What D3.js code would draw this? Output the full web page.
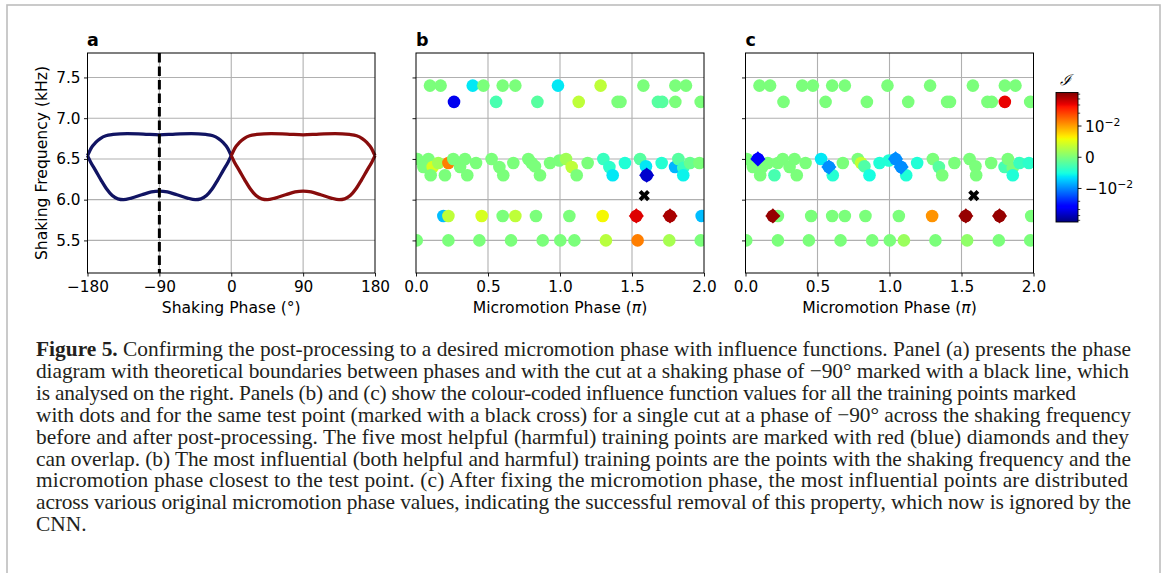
<!DOCTYPE html>
<html><head><meta charset="utf-8">
<script src="https://cdn.jsdelivr.net/npm/d3@7"></script>
<style>
body{margin:0;background:#fff;}
svg{display:block;}
</style></head><body>
<svg id="chart" width="1170" height="573"></svg>
<script>
// ---------- DATA ----------
// Panel a: phase boundaries (Shaking Phase in degrees, Shaking Frequency in kHz)
const blueUpperPhase = [-180,-175,-170,-164,-157,-148,-130,-110,-90,-70,-50,-32,-23,-16,-10,-5,0];
const blueUpperFreq  = [6.54,6.64,6.70,6.75,6.785,6.80,6.81,6.805,6.795,6.805,6.81,6.80,6.785,6.75,6.70,6.64,6.54];
const blueLowerPhase = [-180,-176,-170,-163,-156,-149,-142,-135,-125,-112,-100,-90,-80,-68,-55,-45,-38,-31,-24,-17,-10,-4,0];
const blueLowerFreq  = [6.54,6.46,6.36,6.24,6.13,6.05,6.01,6.00,6.02,6.06,6.095,6.105,6.095,6.06,6.02,6.00,6.01,6.05,6.13,6.24,6.36,6.46,6.54];
const redUpperPhase  = [0,5,10,16,23,32,50,70,90,110,130,148,157,164,170,175,180];
const redUpperFreq   = [6.54,6.64,6.70,6.75,6.785,6.80,6.81,6.805,6.795,6.805,6.81,6.80,6.785,6.75,6.70,6.64,6.54];
const redLowerPhase  = [0,4,10,17,24,31,38,45,55,68,80,90,100,112,125,135,142,149,156,163,170,176,180];
const redLowerFreq   = [6.54,6.46,6.36,6.24,6.13,6.05,6.01,6.00,6.02,6.06,6.095,6.105,6.095,6.06,6.02,6.00,6.01,6.05,6.13,6.24,6.36,6.46,6.54];
const cutPhase = -90;

// Panels b,c: training points (Micromotion Phase in units of pi, Shaking Frequency kHz)
const trainPhase = [
  0.097,0.171,0.394,0.468,0.602,0.690,0.986,1.282,1.579,1.801,1.875,
  0.264,0.556,0.843,1.130,1.400,1.420,1.680,1.710,1.801,1.977,
  0.009,0.086,0.051,0.116,0.155,0.102,0.225,0.201,0.259,0.306,0.340,0.356,0.417,0.525,0.579,0.606,0.676,0.780,0.803,0.826,0.861,0.931,0.995,1.042,1.081,1.116,1.192,1.301,1.343,1.366,1.451,1.556,1.597,1.602,1.706,1.799,1.822,1.856,1.856,1.903,1.968,
  0.190,0.225,0.456,0.602,0.690,0.833,1.065,1.296,1.530,1.764,1.984,
  0.005,0.225,0.440,0.660,0.880,1.002,1.100,1.319,1.539,1.759,1.977
];
const trainFreq = [
  7.4,7.4,7.4,7.4,7.4,7.4,7.4,7.4,7.4,7.4,7.4,
  7.2,7.2,7.2,7.2,7.2,7.2,7.2,7.2,7.2,7.2,
  6.50,6.50,6.40,6.40,6.45,6.30,6.45,6.30,6.50,6.40,6.50,6.30,6.45,6.50,6.40,6.30,6.45,6.50,6.45,6.41,6.30,6.45,6.48,6.50,6.40,6.30,6.45,6.50,6.40,6.30,6.45,6.50,6.41,6.30,6.45,6.40,6.50,6.39,6.30,6.45,6.45,
  5.8,5.8,5.8,5.8,5.8,5.8,5.8,5.8,5.8,5.8,5.8,
  5.5,5.5,5.5,5.5,5.5,5.5,5.5,5.5,5.5,5.5,5.5
];
// influence values before (b) and after (c) post-processing
const inflB = [
  0,0,-0.0045,0,0,0,-0.0045,0.002,0,0,0,
  -0.030,-0.0015,-0.001,0.002,0,0,-0.001,-0.001,0,0,
  0,0,0,0.003,0.001,0,0.013,0,0,0,0,0,0,0,0,0,0,0,0,0,0,0,0,0.001,0.002,0,0,-0.002,-0.0025,-0.0045,-0.003,-0.001,-0.0045,-0.036,-0.0028,-0.007,-0.001,-0.002,-0.004,-0.0005,0,
  -0.0066,0.002,0.003,0,0.002,0,0,0.0045,0.033,0.0435,-0.0066,
  0,0,0,0,0,0,0,0.0018,0.013,0.0012,0
];
const inflC = [
  0,0,0,0,0,0,0,0,0,0,0,
  0,0,0,0,0,0,0,0,0.031,0,
  0,-0.026,0,0,0,0,0,-0.0015,0,0,0,0,0,-0.0045,-0.0097,-0.0028,0,0,0.0022,-0.0012,-0.0035,-0.003,-0.003,-0.0097,-0.0097,-0.003,-0.003,0,-0.001,0,0,0,0,0,0,-0.0015,0,0,-0.003,-0.002,-0.0025,
  0.048,0,0,0,0,0,0,0.011,0.048,0.048,0,
  0,0,0,0,0,0,0.0008,0,0.0005,0,0
];
// most helpful / harmful (diamonds)
const diaPhaseB = [1.530,1.764,1.602];
const diaFreqB  = [5.8,5.8,6.3];
const diaValB   = [0.033,0.0435,-0.036];
const diaPhaseC = [0.190,1.530,1.764,0.086,0.579,1.042,1.081];
const diaFreqC  = [5.8,5.8,5.8,6.5,6.4,6.5,6.4];
const diaValC   = [0.048,0.048,0.048,-0.026,-0.0097,-0.0097,-0.0097];
// test point
const testPhase = 1.585, testFreq = 6.05;

// ticks
const ticksA_x = [-180,-90,0,90,180];
const ticksBC_x = [0.0,0.5,1.0,1.5,2.0];
const ticksY = [5.5,6.0,6.5,7.0,7.5];
const cbMajor = [-0.01,0,0.01];
const cbMinor = [-0.05,-0.04,-0.03,-0.02,0.02,0.03,0.04,0.05];
const cbLimit = 0.054, cbConst = 0.0035;

const captionLines = [
  ["Figure 5.", " Confirming the post-processing to a desired micromotion phase with influence functions. Panel (a) presents the phase"],
  ["", "diagram with theoretical boundaries between phases and with the cut at a shaking phase of \u221290\u00b0 marked with a black line, which"],
  ["", "is analysed on the right. Panels (b) and (c) show the colour-coded influence function values for all the training points marked"],
  ["", "with dots and for the same test point (marked with a black cross) for a single cut at a phase of \u221290\u00b0 across the shaking frequency"],
  ["", "before and after post-processing. The five most helpful (harmful) training points are marked with red (blue) diamonds and they"],
  ["", "can overlap. (b) The most influential (both helpful and harmful) training points are the points with the shaking frequency and the"],
  ["", "micromotion phase closest to the test point. (c) After fixing the micromotion phase, the most influential points are distributed"],
  ["", "across various original micromotion phase values, indicating the successful removal of this property, which now is ignored by the"],
  ["", "CNN."]
];
const captionLineEnds = [1131,1129,1076,1131,1129,1131,1128,1131,0];

// ---------- DRAW ----------
const svg = d3.select("#chart");
const FONT = "DejaVu Sans";
const pTop = 53, pBot = 273;
const TICKFS = 15.3;

// figure frame
svg.append("rect").attr("x",7).attr("y",5).attr("width",1153).attr("height",620)
  .attr("fill","none").attr("stroke","#bdbdbd").attr("stroke-width",1.6);

// jet colormap
const jr = d3.scaleLinear().domain([0,0.35,0.66,0.89,1]).range([0,0,1,1,0.5]).clamp(true);
const jg = d3.scaleLinear().domain([0,0.125,0.375,0.64,0.91,1]).range([0,0,1,1,0,0]).clamp(true);
const jb = d3.scaleLinear().domain([0,0.11,0.34,0.65,1]).range([0.5,1,1,0,0]).clamp(true);
const jet = t => d3.rgb(255*jr(t),255*jg(t),255*jb(t)).toString();
const norm = d3.scaleSymlog().constant(cbConst).domain([-cbLimit,cbLimit]).range([0,1]).clamp(true);
const colorOf = v => jet(norm(v));

const yS = d3.scaleLinear().domain([5.1,7.8]).range([pBot,pTop]);

function fmtMinus(d){ return d<0 ? "\u2212"+Math.abs(d) : String(d); }

function drawFrame(g, x, xTicks, xFmt, showYLabels){
  const [x0,x1] = x.range();
  g.append("g").selectAll("line").data(xTicks.filter(d=>x(d)>x0+0.5 && x(d)<x1-0.5)).join("line")
    .attr("x1",d=>x(d)).attr("x2",d=>x(d)).attr("y1",pTop).attr("y2",pBot)
    .attr("stroke","#b0b0b0").attr("stroke-width",1.1);
  g.append("g").selectAll("line").data(ticksY).join("line")
    .attr("x1",x0).attr("x2",x1).attr("y1",d=>yS(d)).attr("y2",d=>yS(d))
    .attr("stroke","#b0b0b0").attr("stroke-width",1.1);
  const ax = g.append("g").attr("transform",`translate(0,${pBot})`)
    .call(d3.axisBottom(x).tickValues(xTicks).tickFormat(xFmt).tickSize(3.5).tickPadding(3.5));
  const ay = g.append("g").attr("transform",`translate(${x0},0)`)
    .call(d3.axisLeft(yS).tickValues(ticksY).tickFormat(showYLabels? d3.format(".1f") : "").tickSize(3.5).tickPadding(3.5));
  [ax,ay].forEach(a=>{
    a.select(".domain").remove();
    a.selectAll("text").attr("font-family",FONT).attr("font-size",TICKFS).attr("fill","#000");
    a.selectAll("line").attr("stroke","#000").attr("stroke-width",0.9);
  });
  ax.selectAll("text").attr("dy","0.77em");
}
function drawSpines(g, x){
  const [x0,x1] = x.range();
  g.append("rect").attr("x",x0).attr("y",pTop).attr("width",x1-x0).attr("height",pBot-pTop)
    .attr("fill","none").attr("stroke","#000").attr("stroke-width",1);
}

// ---- Panel a ----
const xA = d3.scaleLinear().domain([-180,180]).range([87.5,375]);
const gA = svg.append("g");
drawFrame(gA, xA, ticksA_x, fmtMinus, true);
const lineA = (ph, fr) => d3.line().curve(d3.curveMonotoneX).x((d,i)=>xA(ph[i])).y((d,i)=>yS(fr[i]))(ph);
[[blueUpperPhase,blueUpperFreq,"#111463"],[blueLowerPhase,blueLowerFreq,"#111463"],
 [redUpperPhase,redUpperFreq,"#880c0c"],[redLowerPhase,redLowerFreq,"#880c0c"]].forEach(([p,f,c])=>{
  gA.append("path").attr("d",lineA(p,f)).attr("fill","none").attr("stroke",c)
    .attr("stroke-width",3.3).attr("stroke-linejoin","round");
});
gA.append("line").attr("x1",xA(cutPhase)).attr("x2",xA(cutPhase)).attr("y1",pTop).attr("y2",pBot)
  .attr("stroke","#000").attr("stroke-width",3).attr("stroke-dasharray","9.5,4");
drawSpines(gA, xA);
gA.append("text").attr("x",87).attr("y",46).text("a").attr("font-family",FONT).attr("font-weight","bold").attr("font-size",17.5);
gA.append("text").attr("x",(87.5+375)/2).attr("y",313).attr("text-anchor","middle")
  .attr("font-family",FONT).attr("font-size",15.6).text("Shaking Phase (\u00b0)");
gA.append("text").attr("transform",`translate(46.5,${(pTop+pBot)/2}) rotate(-90)`).attr("text-anchor","middle")
  .attr("font-family",FONT).attr("font-size",15.6).text("Shaking Frequency (kHz)");

// marker shapes
const diamondPath = "M0,-7.6L7.6,0L0,7.6L-7.6,0Z";
const crossPath = (()=>{ const L=5.9,t=1.95, s=Math.SQRT1_2;
  const pts=[[-t,-L],[t,-L],[t,-t],[L,-t],[L,t],[t,t],[t,L],[-t,L],[-t,t],[-L,t],[-L,-t],[-t,-t]];
  return "M"+pts.map(([x,y])=>[(x-y)*s,(x+y)*s].map(v=>v.toFixed(2)).join(",")).join("L")+"Z"; })();

function drawScatter(id, x0, label, vals, dPh, dFr, dVal){
  const x = d3.scaleLinear().domain([0,2]).range([x0,x0+288]);
  const g = svg.append("g");
  drawFrame(g, x, ticksBC_x, d3.format(".1f"), false);
  svg.append("clipPath").attr("id",id).append("rect").attr("x",x0).attr("y",pTop).attr("width",288).attr("height",pBot-pTop);
  const pg = g.append("g").attr("clip-path",`url(#${id})`);
  pg.selectAll("circle").data(trainPhase).join("circle")
    .attr("cx",(d,i)=>x(trainPhase[i])).attr("cy",(d,i)=>yS(trainFreq[i])).attr("r",6.3)
    .attr("fill",(d,i)=>colorOf(vals[i]));
  pg.selectAll("path.dia").data(dPh).join("path").attr("class","dia")
    .attr("transform",(d,i)=>`translate(${x(dPh[i])},${yS(dFr[i])})`).attr("d",diamondPath)
    .attr("fill",(d,i)=>colorOf(dVal[i]));
  pg.append("path").attr("transform",`translate(${x(testPhase)},${yS(testFreq)})`).attr("d",crossPath).attr("fill","#000");
  drawSpines(g, x);
  g.append("text").attr("x",x0).attr("y",46).text(label).attr("font-family",FONT).attr("font-weight","bold").attr("font-size",17.5);
  const xl = g.append("text").attr("x",x0+144).attr("y",313).attr("text-anchor","middle")
    .attr("font-family",FONT).attr("font-size",15.6);
  xl.append("tspan").text("Micromotion Phase (");
  xl.append("tspan").attr("font-style","italic").text("\u03c0");
  xl.append("tspan").text(")");
}
drawScatter("clipB", 416, "b", inflB, diaPhaseB, diaFreqB, diaValB);
drawScatter("clipC", 745.5, "c", inflC, diaPhaseC, diaFreqC, diaValC);

// ---- Colorbar ----
const cbX = 1056, cbW = 22, cbTop = 92.5, cbBot = 222;
const cbScale = d3.scaleSymlog().constant(cbConst).domain([-cbLimit,cbLimit]).range([cbBot,cbTop]);
const grad = svg.append("defs").append("linearGradient").attr("id","jetgrad")
  .attr("x1",0).attr("y1",1).attr("x2",0).attr("y2",0);
grad.selectAll("stop").data(d3.range(0,101)).join("stop")
  .attr("offset",d=>d/100).attr("stop-color",d=>jet(d/100));
svg.append("rect").attr("x",cbX).attr("y",cbTop).attr("width",cbW).attr("height",cbBot-cbTop)
  .attr("fill","url(#jetgrad)").attr("stroke","#000").attr("stroke-width",0.9);
svg.append("g").selectAll("line").data(cbMajor).join("line")
  .attr("x1",cbX+cbW).attr("x2",cbX+cbW+3.5).attr("y1",d=>cbScale(d)).attr("y2",d=>cbScale(d))
  .attr("stroke","#000").attr("stroke-width",0.9);
svg.append("g").selectAll("line").data(cbMinor).join("line")
  .attr("x1",cbX+cbW).attr("x2",cbX+cbW+2.2).attr("y1",d=>cbScale(d)).attr("y2",d=>cbScale(d))
  .attr("stroke","#000").attr("stroke-width",0.7);
const cbl = svg.append("g").selectAll("text").data(cbMajor).join("text")
  .attr("x",cbX+cbW+7).attr("y",d=>cbScale(d)).attr("dy","0.36em")
  .attr("font-family",FONT).attr("font-size",TICKFS);
cbl.each(function(d){
  const t = d3.select(this);
  if (d===0){ t.text("0"); return; }
  t.append("tspan").text((d<0?"\u2212":"")+"10");
  t.append("tspan").attr("dy","-0.55em").attr("font-size",10.8).text("\u22122");
});
svg.append("text").attr("x",cbX+cbW/2-2).attr("y",85).attr("text-anchor","middle")
  .attr("font-family","DejaVu Serif").attr("font-style","italic").attr("font-size",15).text("\u2110");

// ---- Caption ----
const cap = svg.append("g").attr("font-family","Liberation Serif").attr("fill","#231f20");
const capY0 = 356, capDy = 21.9;
const lines = cap.selectAll("text").data(captionLines).join("text")
  .attr("x",36).attr("y",(d,i)=>capY0+i*capDy).attr("font-size",18);
lines.each(function(d){
  const t = d3.select(this);
  if (d[0]) t.append("tspan").attr("font-weight","bold").text(d[0]);
  t.append("tspan").text(d[1]);
});
const w0 = lines.nodes()[0].getComputedTextLength();
const capFs = 18*(captionLineEnds[0]-36)/w0;
lines.attr("font-size",capFs)
  .attr("textLength",(d,i)=>captionLineEnds[i]>0 ? captionLineEnds[i]-36 : null)
  .attr("lengthAdjust","spacing");
</script>
</body></html>
